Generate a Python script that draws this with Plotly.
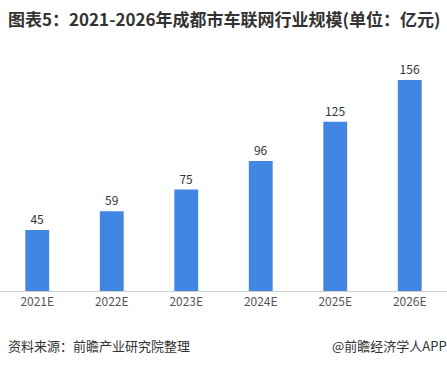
import plotly.graph_objects as go

categories = ["2021E", "2022E", "2023E", "2024E", "2025E", "2026E"]
values = [45, 59, 75, 96, 125, 156]

FONT = "Noto Sans CJK SC"

fig = go.Figure()
fig.add_trace(go.Bar(
    x=categories, y=values,
    marker=dict(color="#4186E2", line=dict(width=0)),
    width=0.32,
    text=[str(v) for v in values],
    textposition="outside",
    textfont=dict(size=12, color="#333333", family=FONT),
    cliponaxis=False,
))

fig.update_layout(
    width=447, height=365,
    margin=dict(l=0, r=0, t=60, b=74),
    paper_bgcolor="white", plot_bgcolor="white",
    showlegend=False,
    font=dict(family=FONT),
    xaxis=dict(
        showline=True, linecolor="#d0d0d0", linewidth=1,
        ticks="", showgrid=False,
        tickfont=dict(size=12, color="#555555", family=FONT),
    ),
    yaxis=dict(
        range=[0, 170.7], visible=False, showgrid=False, zeroline=False,
    ),
)

fig.add_annotation(
    text="<b>图表5：2021-2026年成都市车联网行业规模(单位：亿元)</b>",
    xref="paper", yref="paper", x=0, y=1, xshift=6, yshift=42,
    xanchor="left", yanchor="middle", showarrow=False,
    font=dict(size=17, color="#333333", family=FONT),
)
fig.add_annotation(
    text="资料来源：前瞻产业研究院整理",
    xref="paper", yref="paper", x=0, y=0, xshift=6, yshift=-54,
    xanchor="left", yanchor="middle", showarrow=False,
    font=dict(size=13, color="#333333", family=FONT),
)
fig.add_annotation(
    text="@前瞻经济学人APP",
    xref="paper", yref="paper", x=1, y=0, xshift=2, yshift=-54,
    xanchor="right", yanchor="middle", showarrow=False,
    font=dict(size=13, color="#333333", family=FONT),
)

fig.write_html(
    "out.html",
    config={"displayModeBar": False},
    post_script="document.body.style.margin='0';document.body.style.overflow='hidden';",
)
